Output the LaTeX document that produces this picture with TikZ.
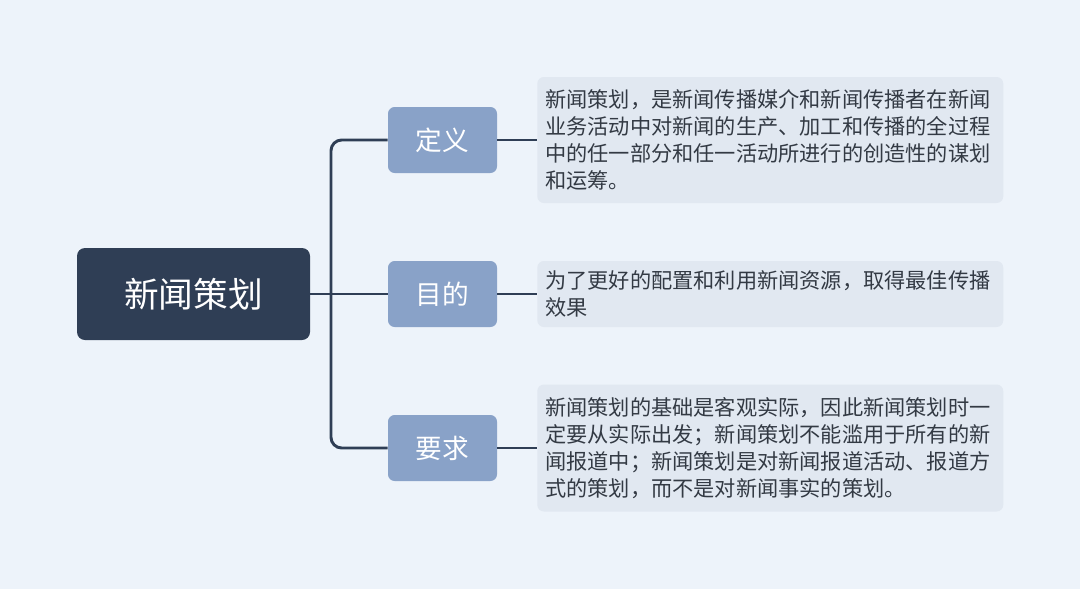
\documentclass[tikz,border=0pt]{standalone}
\usepackage{fontspec}
\setmainfont{Noto Sans CJK SC}
\usetikzlibrary{positioning}
\definecolor{fond}{HTML}{EDF3FA}
\definecolor{racine}{HTML}{2F3E55}
\definecolor{branche}{HTML}{89A2C8}
\definecolor{boite}{HTML}{E1E8F1}
\definecolor{texte}{HTML}{333A44}
\tikzset{
  racinebox/.style={fill=racine,text=white,rounded corners=6pt,minimum width=174.75pt,minimum height=69pt,font=\fontsize{26}{32}\selectfont},
  branchebox/.style={fill=branche,text=white,rounded corners=5pt,minimum width=81.75pt,minimum height=49.5pt,font=\fontsize{20}{24}\selectfont},
  textebox/.style={fill=boite,text=texte,rounded corners=5pt,minimum width=349.5pt,align=left,anchor=west,inner xsep=6pt,text width=337.5pt,font=\fontsize{15.9}{20.25}\selectfont},
  lien/.style={draw=racine,line width=2.2pt,rounded corners=8pt}
}
\begin{document}
\begin{tikzpicture}[x=0.75pt,y=-0.75pt]
	\fill[fond] (0,0) rectangle (1080,589);

	\node[racinebox] (R) at (193.5,294) {新闻策划};

	\node[branchebox] (D) at (442.5,140) {定义};
	\node[branchebox] (M) at (442.5,294) {目的};
	\node[branchebox] (Y) at (442.5,448) {要求};

	\node[textebox,minimum height=94.5pt] (TD) at (537,140) {新闻策划，是新闻传播媒介和新闻传播者在新闻\\业务活动中对新闻的生产、加工和传播的全过程\\中的任一部分和任一活动所进行的创造性的谋划\\和运筹。};
	\node[textebox,minimum height=49.5pt] (TM) at (537,294) {为了更好的配置和利用新闻资源，取得最佳传播\\效果};
	\node[textebox,minimum height=95.25pt] (TY) at (537,448) {新闻策划的基础是客观实际，因此新闻策划时一\\定要从实际出发；新闻策划不能滥用于所有的新\\闻报道中；新闻策划是对新闻报道活动、报道方\\式的策划，而不是对新闻事实的策划。};

	\coordinate (J) at (331,294);
	\draw[lien] (R.east) -- (M.west);
	\draw[lien] (D.west) -| (J) |- (Y.west);

	\draw[lien] (D.east) -- (TD.west);
	\draw[lien] (M.east) -- (TM.west);
	\draw[lien] (Y.east) -- (TY.west);
\end{tikzpicture}
\end{document}
